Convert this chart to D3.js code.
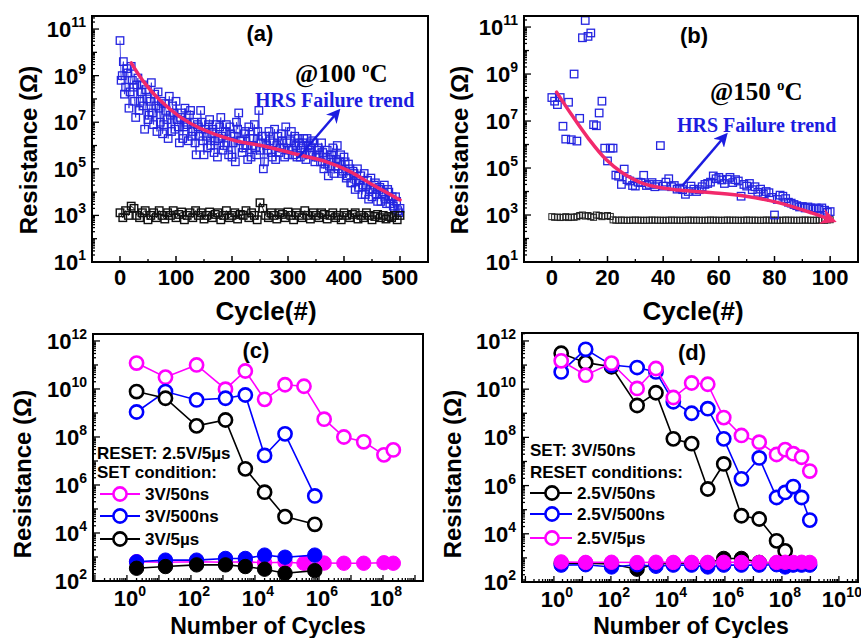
<!DOCTYPE html>
<html><head><meta charset="utf-8">
<script src="https://cdn.jsdelivr.net/npm/d3@7"></script>
<style>body{margin:0;background:#fff} svg text{font-family:"Liberation Sans",Arial,sans-serif}</style>
</head><body>
<script>
// ---------------- DATA ----------------
// (a) 100 C endurance: HRS read at cycles 0,4,8,... and 2,6,10,... ; LRS every 5th cycle
const aBlueStep = 4;
const aBlueR = [3.2e10,1e9,1.6e8,2e9,4e7,2.5e9,3.2e8,1.6e7,7.9e8,7.9e7,
4e8,5e6,1e8,2e7,5e8,7.9e6,5e7,2e8,1e7,3.2e6,
6.3e7,1.3e7,1.3e8,4e6,2.5e7,7.9e7,6.3e6,1.6e7,2e6,4e7,
7.9e6,2e7,2.5e6,1e7,4e5,6.3e6,3.2e7,1.6e6,5e6,7.9e5,
1.3e7,3.2e6,5e5,7.9e6,2e6,1.6e7,6.3e5,4e6,1.3e6,6.3e6,
3.2e5,2.5e6,1e7,2.5e7,1.6e6,7.9e5,4e6,2.5e5,2e6,1e6,
7.9e6,4e5,3.2e7,1.3e6,1e5,2.5e6,6.3e5,1.6e6,3.2e5,5e6,
1e6,5e5,3.2e6,7.9e5,6.3e6,4e5,1.6e6,6.3e5,2.5e6,3.2e5,
1.3e6,7.9e5,2e6,2.5e5,1e6,5e5,1.6e6,2e5,6.3e5,4e5,
1.3e6,1e5,3.2e5,5e4,2.5e5,7.9e5,1.3e5,1e6,2e5,6.3e4,
3.2e5,4e4,1.6e5,2.5e4,7.9e4,1.3e4,1e5,3.2e4,7.9e3,6.3e4,
2e4,5e3,4e4,1.3e4,2.5e4,4e3,1.6e4,7.9e3,2e4,3.2e3,
1e4,5e3,2.5e3,6.3e3,1.6e3,2e3];
const aBlueOffset2 = 2;
const aBlueR2 = [6.3e8,4e9,3.2e8,1.3e9,2e8,6.3e8,7.9e7,4e8,3.2e7,2e8,
5e7,2.5e8,1.3e7,7.9e7,2.5e7,1.6e8,4e6,4e7,7.9e7,7.9e6,
3.2e7,2e6,2e7,5e7,5e6,1.3e7,1.3e6,2.5e7,6.3e6,1e7,
1.6e6,3.2e7,4e6,1.3e6,7.9e6,2.5e6,1e7,4e5,2.5e6,7.9e6,
1e6,5e6,1.6e6,3.2e5,6.3e6,2.5e6,1e6,7.9e6,4e5,3.2e6,
1.3e6,2e5,5e6,1.6e6,5e5,3.2e6,1e6,6.3e6,3.2e5,2e6,
7.9e5,4e6,6.3e5,2.5e6,2e5,1e6,4e6,5e5,1.3e6,2.5e5,
2.5e6,7.9e5,1.6e6,3.2e5,1.3e6,6.3e5,4e6,4e5,1e6,2e6,
3.2e5,1.3e6,5e5,2e6,4e5,7.9e5,1.3e6,3.2e5,7.9e5,2e5,
5e5,1.6e5,6.3e5,1.3e5,4e5,6.3e4,2.5e5,1e5,4e5,7.9e4,
2e5,5e4,1e5,2.5e4,6.3e4,3.2e4,1.6e4,5e4,2e4,7.9e3,
3.2e4,1.3e4,6.3e3,2e4,7.9e3,1.3e4,4e3,1e4,5e3,1.3e4,
3.2e3,6.3e3,2e3,4e3,1.3e3];
const aBlackStep = 5;
const aBlackR = [1300,800,1600,1000,2500,2000,1000,800,1300,1600,
650,1000,1300,800,1600,1000,700,1300,1000,1600,
800,1100,1400,650,1000,1300,800,1600,1000,1300,
700,1000,1400,800,1100,1300,650,1000,1600,800,
1000,1300,700,1100,1000,1600,800,1300,1000,650,
3500,2000,1000,800,1300,1000,700,1300,1100,800,
1400,1000,650,1300,1000,800,1600,1000,700,1300,
1000,800,1300,1100,700,1000,1300,800,1000,650,
1300,1000,800,1100,1300,700,1000,800,1300,1000,
650,900,1100,800,1000,700,900,800,1000,650,1000];
const aTrendCycle = [20,42,71,107,143,202,262,321,369,411,452,500];
const aTrendR = [3.5e9,5.5e8,8.9e7,1.7e7,5.5e6,1.7e6,8.9e5,3.9e5,2e5,7.6e4,2e4,4.6e3];

// (b) 150 C endurance: one point per cycle
const bBlueR = [1e8,7e7,5e7,1e8,6e6,1.7e6,6.3e7,1.6e6,1e9,1.4e6,
1.3e7,3.5e10,1.9e11,4e10,5.6e10,7e6,6.3e6,2.2e7,7e7,7e5,
2e5,7e5,7e5,5e4,4.5e4,2e4,9e4,3.2e4,2.8e4,1.8e4,
1.7e4,2.5e4,2.4e4,4.9e4,1.8e4,2e4,2.4e4,1.6e4,2e4,9e5,
1.7e4,2.5e4,3.5e4,1.6e4,1.8e4,1.26e4,1.4e4,1.2e4,7.6e3,1e4,
1.7e4,1.26e4,1e4,1.2e4,1.6e4,2e4,2.2e4,2.5e4,4.6e4,3.5e4,
4e4,3.1e4,2.2e4,3.3e4,4e4,2.4e4,3.2e4,2.8e4,6.3e3,2e4,
1.7e4,2.2e4,1.2e4,1.6e4,9.3e3,1.26e4,7.9e3,1e4,8.9e3,5.6e3,
1e3,4.6e3,7e3,6.3e3,5e3,3.5e3,3.2e3,2.8e3,2.5e3,2.2e3,
2.3e3,2e3,2.2e3,2e3,1.8e3,2e3,1.8e3,2e3,1.6e3,1.3e3,1.4e3];
const bBlackR = [850,800,820,780,800,850,780,820,800,850,
950,1000,900,950,850,800,1000,950,850,900,950,870,
620,600,600,610,600,590,600,600,610,600,
600,590,600,600,610,600,600,600,590,600,
600,610,600,600,600,590,600,610,600,600,
600,600,590,600,600,610,600,600,600,590,
600,610,600,600,600,600,590,600,610,600,
600,600,600,590,600,610,600,600,600,600,
590,600,610,600,600,600,590,600,600,610,
600,600,590,600,610,600,600,620,630];
const bTrendCycle = [1.7,7.3,13.3,19.3,25.3,33.7,45.7,57.7,69.7,81.7,93.6,100.2];
const bTrendR = [1.7e8,1.7e7,1.7e6,2.4e5,6.3e4,2e4,1.15e4,8.9e3,6.3e3,3.3e3,1.2e3,630];

// (c) RESET 2.5V/5us, SET conditions
const cCyclesLong = [2,16,150,1200,5000,2e4,8.7e4,3.4e5,1.45e6,6e6,2.5e7,1.07e8,2.1e8];
const cCyclesShort = [2,16,150,1200,5000,2e4,8.7e4,7.4e5];
const c50nsHRS = [1.2e11,3.1e10,1e11,9.8e9,5.6e10,3.7e9,1.5e10,1.3e10,5.5e8,1e8,6.3e7,1.8e7,2.9e7];
const c50nsLRS = [630,600,630,600,630,575,600,550,560,550,550,575,550];
const c500nsHRS = [1.1e9,7.8e9,3.5e9,4.1e9,5.6e9,1.7e7,1.35e8,3.5e5];
const c500nsLRS = [630,740,740,870,870,1200,980,1200];
const c5usHRS = [7.8e9,4.1e9,2.9e8,5.1e8,4.7e6,5e5,4.8e4,2.3e4];
const c5usLRS = [340,400,470,470,400,310,210,270];
const cLegend = ["3V/50ns","3V/500ns","3V/5\u00b5s"];

// (d) SET 3V/50ns, RESET conditions
const dCyclesLong = [1.8,13,105,830,3800,1.55e4,6.8e4,2.5e5,9.1e5,3.8e6,1.6e7,6.5e7,1.3e8,2.5e8,4.9e8,9.5e8];
const dCyclesShort = [1.8,13,105,830,3800,1.55e4,6.8e4,2.5e5,9.1e5,3.8e6,1.6e7,6.5e7,1.3e8];
const d50nsHRS = [3.1e11,1.26e11,8.5e10,2.1e9,7.1e9,8.7e7,5.5e7,7.2e5,7.9e6,5.6e4,4.1e4,5.1e3,1.95e3];
const d50nsLRS = [600,600,560,340,560,600,600,600,950,950,650,600,560];
const d500nsHRS = [5.2e10,4.5e11,1e11,7.9e10,5.2e10,3e9,1e9,1.55e9,8.7e7,1.9e6,1.4e7,3.2e5,5.2e5,9.1e5,3.2e5,3.7e4];
const d500nsLRS = [500,520,420,520,450,500,500,420,500,500,500,520,420,500,500,500];
const d5usHRS = [1.5e11,3.8e10,1.2e11,1.07e10,7.2e10,4.5e9,1.8e10,1.6e10,6.6e8,1.2e8,6.3e7,1.95e7,3.1e7,2.1e7,1.5e7,4e6];
const d5usLRS = [680,650,660,640,660,650,650,650,660,650,650,650,660,650,660,650];
const dLegend = ["2.5V/50ns","2.5V/500ns","2.5V/5\u00b5s"];

// ---------------- DRAWING ----------------
const svg = d3.select("body").append("svg").attr("width",861).attr("height",638);
const defs = svg.append("defs");
function marker(id,color,size){
  defs.append("marker").attr("id",id).attr("viewBox","0 0 10 10").attr("refX",6).attr("refY",5)
   .attr("markerUnits","userSpaceOnUse").attr("markerWidth",size).attr("markerHeight",size)
   .attr("orient","auto").append("path").attr("d","M0,0 L10,5 L0,10 L3,5 z").attr("fill",color);
}
marker("arrBlue","#1c1ce0",14);
marker("arrPink","#f2296b",16);

const BLUE_SQ="#2525e0", PINK="#ff00ff", BLUE="#0000ff", TREND="#f2296b";
const TICK_FS=22, SUP_FS=14;

function powLabel(g,x,y,exp,anchor){
  const t=g.append("text").attr("x",x).attr("y",y).attr("text-anchor",anchor)
    .attr("font-weight","bold").attr("font-size",TICK_FS).attr("fill","#000");
  t.append("tspan").text("10");
  t.append("tspan").attr("dy",-10).attr("font-size",SUP_FS).text(exp);
}
function clip(id,box){
  defs.append("clipPath").attr("id",id).append("rect").attr("x",box.x0).attr("y",box.y0)
    .attr("width",box.x1-box.x0).attr("height",box.y1-box.y0);
  return svg.append("g").attr("clip-path",`url(#${id})`);
}
function frame(box){
  svg.append("rect").attr("x",box.x0).attr("y",box.y0).attr("width",box.x1-box.x0).attr("height",box.y1-box.y0)
    .attr("fill","none").attr("stroke","#000").attr("stroke-width",2);
}
function yLog(ys,box,labelExps){
  const g=svg.append("g");
  const [lo,hi]=ys.domain().map(Math.log10);
  for(let e=Math.floor(lo);e<=Math.ceil(hi);e++) for(let m=1;m<=9;m++){
    const v=m*Math.pow(10,e), L=Math.log10(v);
    if(L<lo-1e-9||L>hi+1e-9) continue;
    const len=m===1?(labelExps.includes(e)?7:5):3;
    g.append("line").attr("x1",box.x0).attr("x2",box.x0+len).attr("y1",ys(v)).attr("y2",ys(v))
      .attr("stroke","#000").attr("stroke-width",1.3);
  }
  labelExps.forEach(e=>powLabel(g,box.x0-6,ys(Math.pow(10,e))+8,e,"end"));
}
function xLog(xs,box,labelExps){
  const g=svg.append("g");
  const [lo,hi]=xs.domain().map(Math.log10);
  for(let e=Math.floor(lo);e<=Math.ceil(hi);e++) for(let m=1;m<=9;m++){
    const v=m*Math.pow(10,e), L=Math.log10(v);
    if(L<lo-1e-9||L>hi+1e-9) continue;
    const len=m===1?6:3;
    g.append("line").attr("x1",xs(v)).attr("x2",xs(v)).attr("y1",box.y1).attr("y2",box.y1-len)
      .attr("stroke","#000").attr("stroke-width",1.3);
  }
  labelExps.forEach(e=>powLabel(g,xs(Math.pow(10,e))+3,box.y1+25,e,"middle"));
}
function xLin(xs,box,major,minor){
  const g=svg.append("g");
  major.forEach(v=>{
    g.append("line").attr("x1",xs(v)).attr("x2",xs(v)).attr("y1",box.y1).attr("y2",box.y1-6).attr("stroke","#000").attr("stroke-width",1.5);
    g.append("text").attr("x",xs(v)).attr("y",box.y1+23).attr("text-anchor","middle").attr("font-weight","bold").attr("font-size",TICK_FS).text(v);
  });
  minor.forEach(v=>g.append("line").attr("x1",xs(v)).attr("x2",xs(v)).attr("y1",box.y1).attr("y2",box.y1-3).attr("stroke","#000").attr("stroke-width",1.3));
}
function yTitle(x,y){
  svg.append("text").attr("transform",`translate(${x},${y}) rotate(-90)`).attr("text-anchor","middle")
    .attr("font-weight","bold").attr("font-size",24).text("Resistance (\u03a9)");
}
function txt(x,y,s,size,opts={}){
  const t=svg.append("text").attr("x",x).attr("y",y).attr("font-size",size).attr("font-weight","bold")
    .attr("text-anchor",opts.anchor||"start").attr("fill",opts.fill||"#000");
  if(opts.serif) t.style("font-family",'"Liberation Serif","Times New Roman",serif');
  t.text(s); return t;
}
function squares(g,xs,ys,cyc,vals,size,color,sw){
  g.selectAll(null).data(vals).enter().append("rect")
   .attr("x",(d,i)=>xs(cyc[i])-size/2).attr("y",d=>ys(d)-size/2).attr("width",size).attr("height",size)
   .attr("fill","none").attr("stroke",color).attr("stroke-width",sw);
}
function series(g,xs,ys,cyc,vals,color,filled){
  const line=d3.line().x((d,i)=>xs(cyc[i])).y(d=>ys(d));
  g.append("path").attr("d",line(vals)).attr("fill","none").attr("stroke",color).attr("stroke-width",1.6);
  g.selectAll(null).data(vals).enter().append("circle").attr("cx",(d,i)=>xs(cyc[i])).attr("cy",d=>ys(d))
   .attr("r",filled?7.2:6.6).attr("fill",filled?color:"#fff").attr("stroke",color).attr("stroke-width",filled?1:2.6);
}

// ---- Panel (a)
const boxA={x0:92,x1:428,y0:16,y1:262};
const axS=d3.scaleLinear().domain([-50,550]).range([boxA.x0,boxA.x1]);
const ayS=d3.scaleLog().domain([10,Math.pow(10,11.56)]).range([boxA.y1,boxA.y0]);
const gA=clip("clipA",boxA);
const aBluePts=[];
aBlueR.forEach((v,i)=>aBluePts.push([i*aBlueStep,v]));
aBlueR2.forEach((v,i)=>aBluePts.push([aBlueOffset2+i*aBlueStep,v]));
aBluePts.sort((p,q)=>p[0]-q[0]);
const aBlackCyc=aBlackR.map((d,i)=>i*aBlackStep);
gA.append("path").attr("d",d3.line().x(p=>axS(p[0])).y(p=>ayS(p[1]))(aBluePts))
  .attr("fill","none").attr("stroke",BLUE_SQ).attr("stroke-width",0.8);
squares(gA,axS,ayS,aBluePts.map(p=>p[0]),aBluePts.map(p=>p[1]),7.5,BLUE_SQ,1.3);
gA.append("path").attr("d",d3.line().x((d,i)=>axS(aBlackCyc[i])).y(d=>ayS(d))(aBlackR))
  .attr("fill","none").attr("stroke","#000").attr("stroke-width",0.9);
squares(gA,axS,ayS,aBlackCyc,aBlackR,7.5,"#111",1.4);
gA.append("path").attr("d",d3.line().curve(d3.curveCatmullRom).x((d,i)=>axS(aTrendCycle[i])).y(d=>ayS(d))(aTrendR))
  .attr("fill","none").attr("stroke",TREND).attr("stroke-width",3.5).attr("stroke-linecap","round");
svg.append("line").attr("x1",axS(318)).attr("y1",ayS(2.9e5)).attr("x2",axS(387)).attr("y2",ayS(2.5e7))
  .attr("stroke","#1c1ce0").attr("stroke-width",2.5).attr("marker-end","url(#arrBlue)");
frame(boxA);
yLog(ayS,boxA,[1,3,5,7,9,11]);
xLin(axS,boxA,[0,100,200,300,400,500],[50,150,250,350,450]);
yTitle(37,150);
txt(266,320,"Cycle(#)",26,{anchor:"middle"});
txt(260,41,"(a)",22,{anchor:"middle"});
const t100=txt(295,82,"@100 ",25,{serif:true});
t100.append("tspan").attr("dy",-10).attr("font-size",15).text("o");
t100.append("tspan").attr("dy",10).text("C");
txt(255,107,"HRS Failure trend",20,{serif:true,fill:"#1c1ce0"});

// ---- Panel (b)
const boxB={x0:524,x1:858,y0:16,y1:262};
const bxS=d3.scaleLinear().domain([-10,110]).range([boxB.x0,boxB.x1]);
const byS=d3.scaleLog().domain([10,Math.pow(10,11.47)]).range([boxB.y1,boxB.y0]);
const gB=clip("clipB",boxB);
const bCyc=bBlueR.map((d,i)=>i), bBlackCyc=bBlackR.map((d,i)=>i);
squares(gB,bxS,byS,bBlackCyc,bBlackR,6,"#222",1.0);
squares(gB,bxS,byS,bCyc,bBlueR,7.5,BLUE_SQ,1.3);
svg.append("path").attr("d",d3.line().curve(d3.curveCatmullRom).x((d,i)=>bxS(bTrendCycle[i])).y(d=>byS(d))(bTrendR))
  .attr("fill","none").attr("stroke",TREND).attr("stroke-width",3.5).attr("stroke-linecap","round").attr("marker-end","url(#arrPink)");
svg.append("line").attr("x1",bxS(46.8)).attr("y1",byS(1.7e4)).attr("x2",bxS(61.9)).attr("y2",byS(2.1e6))
  .attr("stroke","#1c1ce0").attr("stroke-width",2.5).attr("marker-end","url(#arrBlue)");
frame(boxB);
yLog(byS,boxB,[1,3,5,7,9,11]);
xLin(bxS,boxB,[0,20,40,60,80,100],[10,30,50,70,90]);
yTitle(468,150);
txt(693,320,"Cycle(#)",26,{anchor:"middle"});
txt(694,43,"(b)",22,{anchor:"middle"});
const t150=txt(710,100,"@150 ",25,{serif:true});
t150.append("tspan").attr("dy",-10).attr("font-size",15).text("o");
t150.append("tspan").attr("dy",10).text("C");
txt(677,132,"HRS Failure trend",20,{serif:true,fill:"#1c1ce0"});

// ---- Panel (c)
const boxC={x0:93,x1:423,y0:334,y1:581};
const cxS=d3.scaleLog().domain([Math.pow(10,-1.06),Math.pow(10,9.25)]).range([boxC.x0,boxC.x1]);
const cyS=d3.scaleLog().domain([100,Math.pow(10,12.29)]).range([boxC.y1,boxC.y0]);
const gC=clip("clipC",boxC);
series(gC,cxS,cyS,cCyclesLong,c50nsLRS,PINK,true);
series(gC,cxS,cyS,cCyclesLong,c50nsHRS,PINK,false);
series(gC,cxS,cyS,cCyclesShort,c500nsLRS,BLUE,true);
series(gC,cxS,cyS,cCyclesShort,c500nsHRS,BLUE,false);
series(gC,cxS,cyS,cCyclesShort,c5usLRS,"#000",true);
series(gC,cxS,cyS,cCyclesShort,c5usHRS,"#000",false);
frame(boxC);
yLog(cyS,boxC,[2,4,6,8,10,12]);
xLog(cxS,boxC,[0,2,4,6,8]);
yTitle(31,474);
txt(268,634,"Number of Cycles",23,{anchor:"middle"});
txt(256,358,"(c)",22,{anchor:"middle"});
txt(97,459,"RESET: 2.5V/5\u00b5s",17);
txt(97,478,"SET condition:",17);
[PINK,BLUE,"#000"].forEach((col,i)=>{
  const y=[494,516,539][i];
  svg.append("line").attr("x1",100).attr("x2",140).attr("y1",y).attr("y2",y).attr("stroke",col).attr("stroke-width",1.8);
  svg.append("circle").attr("cx",120).attr("cy",y).attr("r",6.6).attr("fill","#fff").attr("stroke",col).attr("stroke-width",2.6);
  txt(145,y+6,cLegend[i],17);
});

// ---- Panel (d)
const boxD={x0:522,x1:858,y0:333,y1:582};
const dxS=d3.scaleLog().domain([Math.pow(10,-1.12),Math.pow(10,10.67)]).range([boxD.x0,boxD.x1]);
const dyS=d3.scaleLog().domain([100,Math.pow(10,12.33)]).range([boxD.y1,boxD.y0]);
const gD=clip("clipD",boxD);
series(gD,dxS,dyS,dCyclesShort,d50nsLRS,"#000",true);
series(gD,dxS,dyS,dCyclesShort,d50nsHRS,"#000",false);
series(gD,dxS,dyS,dCyclesLong,d500nsLRS,BLUE,true);
series(gD,dxS,dyS,dCyclesLong,d500nsHRS,BLUE,false);
series(gD,dxS,dyS,dCyclesLong,d5usLRS,PINK,true);
series(gD,dxS,dyS,dCyclesLong,d5usHRS,PINK,false);
frame(boxD);
yLog(dyS,boxD,[2,4,6,8,10,12]);
xLog(dxS,boxD,[0,2,4,6,8,10]);
yTitle(461,474);
txt(691,634,"Number of Cycles",23,{anchor:"middle"});
txt(692,360,"(d)",22,{anchor:"middle"});
txt(530,456,"SET: 3V/50ns",17);
txt(530,478,"RESET conditions:",17);
["#000",BLUE,PINK].forEach((col,i)=>{
  const y=[493,514,538][i];
  svg.append("line").attr("x1",530).attr("x2",572).attr("y1",y).attr("y2",y).attr("stroke",col).attr("stroke-width",1.8);
  svg.append("circle").attr("cx",552).attr("cy",y).attr("r",6.6).attr("fill","#fff").attr("stroke",col).attr("stroke-width",2.6);
  txt(577,y+6,dLegend[i],17);
});
</script>
</body></html>
